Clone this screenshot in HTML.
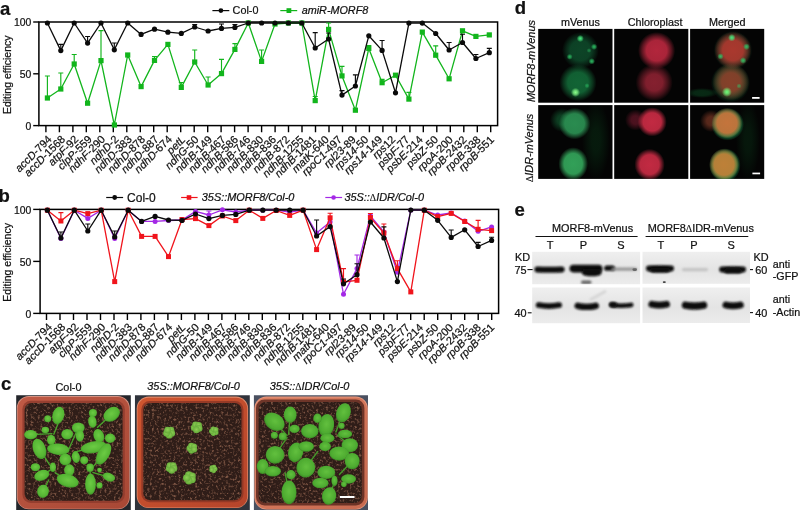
<!DOCTYPE html>
<html lang="en"><head><meta charset="utf-8"><title>Figure</title>
<style>text{stroke:#111;stroke-width:0.22px}.dl{font-family:"Liberation Serif",serif;font-size:9.8px;font-style:normal;stroke-width:0.1px}html,body{margin:0;padding:0;background:#fff}body{width:800px;height:510px;overflow:hidden}svg{display:block;will-change:transform}</style></head>
<body>
<svg width="800" height="510" viewBox="0 0 800 510" font-family="'Liberation Sans', sans-serif">
<rect width="800" height="510" fill="#fff"/>
<rect x="38.9" y="22.0" width="458.7" height="103.6" fill="none" stroke="#000" stroke-width="1.5"/>
<path d="M33.2 22.0H38.9" stroke="#000" stroke-width="1.4"/>
<text x="31.4" y="26.2" text-anchor="end" font-size="10.4" fill="#111">100</text>
<path d="M33.2 73.8H38.9" stroke="#000" stroke-width="1.4"/>
<text x="31.4" y="78.0" text-anchor="end" font-size="10.4" fill="#111">50</text>
<path d="M33.2 125.6H38.9" stroke="#000" stroke-width="1.4"/>
<text x="31.4" y="129.8" text-anchor="end" font-size="10.4" fill="#111">0</text>
<path d="M45.9 125.6v6.6M59.4 125.6v6.6M72.9 125.6v6.6M86.3 125.6v6.6M99.8 125.6v6.6M113.3 125.6v6.6M126.8 125.6v6.6M140.3 125.6v6.6M153.7 125.6v6.6M167.2 125.6v6.6M180.7 125.6v6.6M194.2 125.6v6.6M207.7 125.6v6.6M221.1 125.6v6.6M234.6 125.6v6.6M248.1 125.6v6.6M261.6 125.6v6.6M275.1 125.6v6.6M288.5 125.6v6.6M302.0 125.6v6.6M315.5 125.6v6.6M329.0 125.6v6.6M342.5 125.6v6.6M355.9 125.6v6.6M369.4 125.6v6.6M382.9 125.6v6.6M396.4 125.6v6.6M409.9 125.6v6.6M423.3 125.6v6.6M436.8 125.6v6.6M450.3 125.6v6.6M463.8 125.6v6.6M477.3 125.6v6.6M490.7 125.6v6.6" stroke="#000" stroke-width="1.4" fill="none"/>
<text transform="translate(52.4 139.9) rotate(-45)" text-anchor="end" font-size="10.9" fill="#111"><tspan font-style="italic">accD</tspan>-794</text>
<text transform="translate(65.8 139.9) rotate(-45)" text-anchor="end" font-size="10.9" fill="#111"><tspan font-style="italic">accD</tspan>-1568</text>
<text transform="translate(79.1 139.9) rotate(-45)" text-anchor="end" font-size="10.9" fill="#111"><tspan font-style="italic">atpF</tspan>-92</text>
<text transform="translate(92.5 140.0) rotate(-45)" text-anchor="end" font-size="10.9" fill="#111"><tspan font-style="italic">clpP</tspan>-559</text>
<text transform="translate(105.8 140.0) rotate(-45)" text-anchor="end" font-size="10.9" fill="#111"><tspan font-style="italic">ndhF</tspan>-290</text>
<text transform="translate(119.2 140.0) rotate(-45)" text-anchor="end" font-size="10.9" fill="#111"><tspan font-style="italic">ndhD</tspan>-2</text>
<text transform="translate(132.6 140.0) rotate(-45)" text-anchor="end" font-size="10.9" fill="#111"><tspan font-style="italic">ndhD</tspan>-383</text>
<text transform="translate(145.9 140.0) rotate(-45)" text-anchor="end" font-size="10.9" fill="#111"><tspan font-style="italic">ndhD</tspan>-878</text>
<text transform="translate(159.3 140.0) rotate(-45)" text-anchor="end" font-size="10.9" fill="#111"><tspan font-style="italic">ndhD</tspan>-887</text>
<text transform="translate(172.7 140.0) rotate(-45)" text-anchor="end" font-size="10.9" fill="#111"><tspan font-style="italic">ndhD</tspan>-674</text>
<text transform="translate(186.1 140.1) rotate(-45)" text-anchor="end" font-size="10.9" fill="#111"><tspan font-style="italic">petL</tspan></text>
<text transform="translate(199.4 140.1) rotate(-45)" text-anchor="end" font-size="10.9" fill="#111"><tspan font-style="italic">ndhG</tspan>-50</text>
<text transform="translate(212.8 140.1) rotate(-45)" text-anchor="end" font-size="10.9" fill="#111"><tspan font-style="italic">ndhB</tspan>-149</text>
<text transform="translate(226.2 140.1) rotate(-45)" text-anchor="end" font-size="10.9" fill="#111"><tspan font-style="italic">ndhB</tspan>-467</text>
<text transform="translate(238.7 140.1) rotate(-45)" text-anchor="end" font-size="10.9" fill="#111"><tspan font-style="italic">ndhB</tspan>-586</text>
<text transform="translate(251.1 140.1) rotate(-45)" text-anchor="end" font-size="10.9" fill="#111"><tspan font-style="italic">ndhB</tspan>-746</text>
<text transform="translate(264.1 140.1) rotate(-45)" text-anchor="end" font-size="10.9" fill="#111"><tspan font-style="italic">ndhB</tspan>-830</text>
<text transform="translate(276.9 140.2) rotate(-45)" text-anchor="end" font-size="10.9" fill="#111"><tspan font-style="italic">ndhB</tspan>-836</text>
<text transform="translate(290.4 140.2) rotate(-45)" text-anchor="end" font-size="10.9" fill="#111"><tspan font-style="italic">ndhB</tspan>-872</text>
<text transform="translate(304.4 140.2) rotate(-45)" text-anchor="end" font-size="10.9" fill="#111"><tspan font-style="italic">ndhB</tspan>-1255</text>
<text transform="translate(316.7 140.2) rotate(-45)" text-anchor="end" font-size="10.9" fill="#111"><tspan font-style="italic">ndhB</tspan>-1481</text>
<text transform="translate(329.6 140.2) rotate(-45)" text-anchor="end" font-size="10.9" fill="#111"><tspan font-style="italic">matK</tspan>-640</text>
<text transform="translate(342.6 140.2) rotate(-45)" text-anchor="end" font-size="10.9" fill="#111"><tspan font-style="italic">rpoC1</tspan>-497</text>
<text transform="translate(356.5 140.2) rotate(-45)" text-anchor="end" font-size="10.9" fill="#111"><tspan font-style="italic">rpl23</tspan>-89</text>
<text transform="translate(369.1 140.3) rotate(-45)" text-anchor="end" font-size="10.9" fill="#111"><tspan font-style="italic">rps14</tspan>-50</text>
<text transform="translate(383.1 140.3) rotate(-45)" text-anchor="end" font-size="10.9" fill="#111"><tspan font-style="italic">rps14</tspan>-149</text>
<text transform="translate(396.0 140.3) rotate(-45)" text-anchor="end" font-size="10.9" fill="#111"><tspan font-style="italic">rps</tspan>12</text>
<text transform="translate(410.0 140.3) rotate(-45)" text-anchor="end" font-size="10.9" fill="#111"><tspan font-style="italic">psbF</tspan>-77</text>
<text transform="translate(423.6 140.3) rotate(-45)" text-anchor="end" font-size="10.9" fill="#111"><tspan font-style="italic">psbE</tspan>-214</text>
<text transform="translate(438.7 140.3) rotate(-45)" text-anchor="end" font-size="10.9" fill="#111"><tspan font-style="italic">psbZ</tspan>-50</text>
<text transform="translate(453.5 140.4) rotate(-45)" text-anchor="end" font-size="10.9" fill="#111"><tspan font-style="italic">rpoA</tspan>-200</text>
<text transform="translate(467.4 140.4) rotate(-45)" text-anchor="end" font-size="10.9" fill="#111"><tspan font-style="italic">rpoB</tspan>-2432</text>
<text transform="translate(481.3 140.4) rotate(-45)" text-anchor="end" font-size="10.9" fill="#111"><tspan font-style="italic">rpoB</tspan>-338</text>
<text transform="translate(494.7 140.4) rotate(-45)" text-anchor="end" font-size="10.9" fill="#111"><tspan font-style="italic">rpoB</tspan>-551</text>
<text transform="translate(10.6 74.8) rotate(-90)" text-anchor="middle" font-size="10.5" fill="#111">Editing efficiency</text>
<polyline points="47.4,98.0 60.8,89.0 74.2,64.0 87.6,103.2 101.0,60.6 114.3,125.0 127.7,55.0 141.1,86.6 154.5,60.4 167.9,44.4 181.3,87.4 194.7,62.0 208.1,85.0 221.5,73.6 234.9,49.4 248.3,23.0 261.6,61.4 275.0,24.0 288.4,23.0 301.8,23.0 315.2,100.6 328.6,29.4 342.0,75.9 355.4,110.2 368.8,48.4 382.1,82.7 395.5,75.2 408.9,99.1 422.3,32.1 435.7,55.2 449.1,78.8 462.5,30.8 475.9,36.4 489.3,34.9" fill="none" stroke="#12b51c" stroke-width="1.30" stroke-linejoin="round"/>
<path d="M47.4 98.0V76.0M44.9 76.0h5.0" stroke="#12b51c" stroke-width="1.15" fill="none"/>
<path d="M60.8 89.0V73.0M58.3 73.0h5.0" stroke="#12b51c" stroke-width="1.15" fill="none"/>
<path d="M74.2 64.0V54.5M71.7 54.5h5.0" stroke="#12b51c" stroke-width="1.15" fill="none"/>
<path d="M101.0 60.6V30.6M98.5 30.6h5.0" stroke="#12b51c" stroke-width="1.15" fill="none"/>
<path d="M154.5 60.4V56.5M152.0 56.5h5.0" stroke="#12b51c" stroke-width="1.15" fill="none"/>
<path d="M181.3 87.4V82.5M178.8 82.5h5.0" stroke="#12b51c" stroke-width="1.15" fill="none"/>
<path d="M194.7 62.0V50.0M192.2 50.0h5.0" stroke="#12b51c" stroke-width="1.15" fill="none"/>
<path d="M208.1 85.0V77.0M205.6 77.0h5.0" stroke="#12b51c" stroke-width="1.15" fill="none"/>
<path d="M221.5 73.6V59.4M219.0 59.4h5.0" stroke="#12b51c" stroke-width="1.15" fill="none"/>
<path d="M234.9 49.4V43.6M232.4 43.6h5.0" stroke="#12b51c" stroke-width="1.15" fill="none"/>
<path d="M261.6 61.4V50.0M259.1 50.0h5.0" stroke="#12b51c" stroke-width="1.15" fill="none"/>
<path d="M315.2 100.6V96.5M312.7 96.5h5.0" stroke="#12b51c" stroke-width="1.15" fill="none"/>
<path d="M328.6 29.4V23.0M326.1 23.0h5.0" stroke="#12b51c" stroke-width="1.15" fill="none"/>
<path d="M342.0 75.9V66.4M339.5 66.4h5.0" stroke="#12b51c" stroke-width="1.15" fill="none"/>
<path d="M368.8 48.4V45.5M366.3 45.5h5.0" stroke="#12b51c" stroke-width="1.15" fill="none"/>
<path d="M382.1 82.7V79.3M379.6 79.3h5.0" stroke="#12b51c" stroke-width="1.15" fill="none"/>
<path d="M408.9 99.1V92.4M406.4 92.4h5.0" stroke="#12b51c" stroke-width="1.15" fill="none"/>
<path d="M435.7 55.2V45.9M433.2 45.9h5.0" stroke="#12b51c" stroke-width="1.15" fill="none"/>
<rect x="44.8" y="95.4" width="5.2" height="5.2" fill="#12b51c"/>
<rect x="58.2" y="86.4" width="5.2" height="5.2" fill="#12b51c"/>
<rect x="71.6" y="61.4" width="5.2" height="5.2" fill="#12b51c"/>
<rect x="85.0" y="100.6" width="5.2" height="5.2" fill="#12b51c"/>
<rect x="98.4" y="58.0" width="5.2" height="5.2" fill="#12b51c"/>
<rect x="111.8" y="122.4" width="5.2" height="5.2" fill="#12b51c"/>
<rect x="125.1" y="52.4" width="5.2" height="5.2" fill="#12b51c"/>
<rect x="138.5" y="84.0" width="5.2" height="5.2" fill="#12b51c"/>
<rect x="151.9" y="57.8" width="5.2" height="5.2" fill="#12b51c"/>
<rect x="165.3" y="41.8" width="5.2" height="5.2" fill="#12b51c"/>
<rect x="178.7" y="84.8" width="5.2" height="5.2" fill="#12b51c"/>
<rect x="192.1" y="59.4" width="5.2" height="5.2" fill="#12b51c"/>
<rect x="205.5" y="82.4" width="5.2" height="5.2" fill="#12b51c"/>
<rect x="218.9" y="71.0" width="5.2" height="5.2" fill="#12b51c"/>
<rect x="232.3" y="46.8" width="5.2" height="5.2" fill="#12b51c"/>
<rect x="245.7" y="20.4" width="5.2" height="5.2" fill="#12b51c"/>
<rect x="259.0" y="58.8" width="5.2" height="5.2" fill="#12b51c"/>
<rect x="272.4" y="21.4" width="5.2" height="5.2" fill="#12b51c"/>
<rect x="285.8" y="20.4" width="5.2" height="5.2" fill="#12b51c"/>
<rect x="299.2" y="20.4" width="5.2" height="5.2" fill="#12b51c"/>
<rect x="312.6" y="98.0" width="5.2" height="5.2" fill="#12b51c"/>
<rect x="326.0" y="26.8" width="5.2" height="5.2" fill="#12b51c"/>
<rect x="339.4" y="73.3" width="5.2" height="5.2" fill="#12b51c"/>
<rect x="352.8" y="107.6" width="5.2" height="5.2" fill="#12b51c"/>
<rect x="366.2" y="45.8" width="5.2" height="5.2" fill="#12b51c"/>
<rect x="379.5" y="80.1" width="5.2" height="5.2" fill="#12b51c"/>
<rect x="392.9" y="72.6" width="5.2" height="5.2" fill="#12b51c"/>
<rect x="406.3" y="96.5" width="5.2" height="5.2" fill="#12b51c"/>
<rect x="419.7" y="29.5" width="5.2" height="5.2" fill="#12b51c"/>
<rect x="433.1" y="52.6" width="5.2" height="5.2" fill="#12b51c"/>
<rect x="446.5" y="76.2" width="5.2" height="5.2" fill="#12b51c"/>
<rect x="459.9" y="28.2" width="5.2" height="5.2" fill="#12b51c"/>
<rect x="473.3" y="33.8" width="5.2" height="5.2" fill="#12b51c"/>
<rect x="486.7" y="32.3" width="5.2" height="5.2" fill="#12b51c"/>
<polyline points="47.4,23.0 60.8,50.6 74.2,23.0 87.6,43.1 101.0,23.0 114.3,49.8 127.7,23.0 141.1,34.4 154.5,29.2 167.9,32.2 181.3,33.4 194.7,27.0 208.1,31.0 221.5,28.4 234.9,27.4 248.3,23.0 261.6,23.0 275.0,23.0 288.4,23.0 301.8,23.0 315.2,48.0 328.6,39.0 342.0,95.1 355.4,86.0 368.8,35.8 382.1,50.4 395.5,92.8 408.9,23.1 422.3,23.1 435.7,33.5 449.1,50.0 462.5,42.5 475.9,58.5 489.3,52.7" fill="none" stroke="#0a0a0a" stroke-width="1.30" stroke-linejoin="round"/>
<path d="M60.8 50.6V44.3M58.3 44.3h5.0" stroke="#0a0a0a" stroke-width="1.15" fill="none"/>
<path d="M87.6 43.1V36.5M85.1 36.5h5.0" stroke="#0a0a0a" stroke-width="1.15" fill="none"/>
<path d="M114.3 49.8V43.0M111.8 43.0h5.0" stroke="#0a0a0a" stroke-width="1.15" fill="none"/>
<path d="M194.7 27.0V24.5M192.2 24.5h5.0" stroke="#0a0a0a" stroke-width="1.15" fill="none"/>
<path d="M221.5 28.4V24.0M219.0 24.0h5.0" stroke="#0a0a0a" stroke-width="1.15" fill="none"/>
<path d="M234.9 27.4V24.5M232.4 24.5h5.0" stroke="#0a0a0a" stroke-width="1.15" fill="none"/>
<path d="M315.2 48.0V32.6M312.7 32.6h5.0" stroke="#0a0a0a" stroke-width="1.15" fill="none"/>
<path d="M328.6 39.0V33.0M326.1 33.0h5.0" stroke="#0a0a0a" stroke-width="1.15" fill="none"/>
<path d="M342.0 95.1V90.6M339.5 90.6h5.0" stroke="#0a0a0a" stroke-width="1.15" fill="none"/>
<path d="M355.4 86.0V74.8M352.9 74.8h5.0" stroke="#0a0a0a" stroke-width="1.15" fill="none"/>
<path d="M382.1 50.4V40.5M379.6 40.5h5.0" stroke="#0a0a0a" stroke-width="1.15" fill="none"/>
<path d="M449.1 50.0V42.5M446.6 42.5h5.0" stroke="#0a0a0a" stroke-width="1.15" fill="none"/>
<path d="M462.5 42.5V34.2M460.0 34.2h5.0" stroke="#0a0a0a" stroke-width="1.15" fill="none"/>
<path d="M475.9 58.5V54.5M473.4 54.5h5.0" stroke="#0a0a0a" stroke-width="1.15" fill="none"/>
<path d="M489.3 52.7V48.4M486.8 48.4h5.0" stroke="#0a0a0a" stroke-width="1.15" fill="none"/>
<circle cx="47.4" cy="23.0" r="2.60" fill="#0a0a0a"/>
<circle cx="60.8" cy="50.6" r="2.60" fill="#0a0a0a"/>
<circle cx="74.2" cy="23.0" r="2.60" fill="#0a0a0a"/>
<circle cx="87.6" cy="43.1" r="2.60" fill="#0a0a0a"/>
<circle cx="101.0" cy="23.0" r="2.60" fill="#0a0a0a"/>
<circle cx="114.3" cy="49.8" r="2.60" fill="#0a0a0a"/>
<circle cx="127.7" cy="23.0" r="2.60" fill="#0a0a0a"/>
<circle cx="141.1" cy="34.4" r="2.60" fill="#0a0a0a"/>
<circle cx="154.5" cy="29.2" r="2.60" fill="#0a0a0a"/>
<circle cx="167.9" cy="32.2" r="2.60" fill="#0a0a0a"/>
<circle cx="181.3" cy="33.4" r="2.60" fill="#0a0a0a"/>
<circle cx="194.7" cy="27.0" r="2.60" fill="#0a0a0a"/>
<circle cx="208.1" cy="31.0" r="2.60" fill="#0a0a0a"/>
<circle cx="221.5" cy="28.4" r="2.60" fill="#0a0a0a"/>
<circle cx="234.9" cy="27.4" r="2.60" fill="#0a0a0a"/>
<circle cx="248.3" cy="23.0" r="2.60" fill="#0a0a0a"/>
<circle cx="261.6" cy="23.0" r="2.60" fill="#0a0a0a"/>
<circle cx="275.0" cy="23.0" r="2.60" fill="#0a0a0a"/>
<circle cx="288.4" cy="23.0" r="2.60" fill="#0a0a0a"/>
<circle cx="301.8" cy="23.0" r="2.60" fill="#0a0a0a"/>
<circle cx="315.2" cy="48.0" r="2.60" fill="#0a0a0a"/>
<circle cx="328.6" cy="39.0" r="2.60" fill="#0a0a0a"/>
<circle cx="342.0" cy="95.1" r="2.60" fill="#0a0a0a"/>
<circle cx="355.4" cy="86.0" r="2.60" fill="#0a0a0a"/>
<circle cx="368.8" cy="35.8" r="2.60" fill="#0a0a0a"/>
<circle cx="382.1" cy="50.4" r="2.60" fill="#0a0a0a"/>
<circle cx="395.5" cy="92.8" r="2.60" fill="#0a0a0a"/>
<circle cx="408.9" cy="23.1" r="2.60" fill="#0a0a0a"/>
<circle cx="422.3" cy="23.1" r="2.60" fill="#0a0a0a"/>
<circle cx="435.7" cy="33.5" r="2.60" fill="#0a0a0a"/>
<circle cx="449.1" cy="50.0" r="2.60" fill="#0a0a0a"/>
<circle cx="462.5" cy="42.5" r="2.60" fill="#0a0a0a"/>
<circle cx="475.9" cy="58.5" r="2.60" fill="#0a0a0a"/>
<circle cx="489.3" cy="52.7" r="2.60" fill="#0a0a0a"/>
<text x="0" y="15.4" font-size="18.5" font-weight="bold" fill="#111">a</text>
<path d="M212.4 10.6H229.3" stroke="#0a0a0a" stroke-width="1.2"/><circle cx="220.9" cy="10.6" r="2.4" fill="#0a0a0a"/>
<text x="232.6" y="14" font-size="10.8" fill="#111">Col-0</text>
<path d="M280.3 10.6H297.2" stroke="#12b51c" stroke-width="1.2"/><rect x="286.5" y="8.2" width="4.8" height="4.8" fill="#12b51c"/>
<text x="301.7" y="14" font-size="10.8" font-style="italic" fill="#111">amiR-MORF8</text>
<rect x="40.1" y="209.4" width="458.5" height="104.0" fill="none" stroke="#000" stroke-width="1.5"/>
<path d="M33.2 209.4H40.1" stroke="#000" stroke-width="1.4"/>
<text x="31.4" y="213.6" text-anchor="end" font-size="10.4" fill="#111">100</text>
<path d="M33.2 261.4H40.1" stroke="#000" stroke-width="1.4"/>
<text x="31.4" y="265.6" text-anchor="end" font-size="10.4" fill="#111">50</text>
<path d="M33.2 313.4H40.1" stroke="#000" stroke-width="1.4"/>
<text x="31.4" y="317.6" text-anchor="end" font-size="10.4" fill="#111">0</text>
<path d="M46.5 313.4v6.6M60.0 313.4v6.6M73.5 313.4v6.6M87.0 313.4v6.6M100.5 313.4v6.6M114.0 313.4v6.6M127.4 313.4v6.6M140.9 313.4v6.6M154.4 313.4v6.6M167.9 313.4v6.6M181.4 313.4v6.6M194.9 313.4v6.6M208.4 313.4v6.6M221.9 313.4v6.6M235.4 313.4v6.6M248.8 313.4v6.6M262.3 313.4v6.6M275.8 313.4v6.6M289.3 313.4v6.6M302.8 313.4v6.6M316.3 313.4v6.6M329.8 313.4v6.6M343.3 313.4v6.6M356.8 313.4v6.6M370.3 313.4v6.6M383.8 313.4v6.6M397.2 313.4v6.6M410.7 313.4v6.6M424.2 313.4v6.6M437.7 313.4v6.6M451.2 313.4v6.6M464.7 313.4v6.6M478.2 313.4v6.6M491.7 313.4v6.6" stroke="#000" stroke-width="1.4" fill="none"/>
<text transform="translate(52.7 327.7) rotate(-45)" text-anchor="end" font-size="10.9" fill="#111"><tspan font-style="italic">accD</tspan>-794</text>
<text transform="translate(66.1 327.7) rotate(-45)" text-anchor="end" font-size="10.9" fill="#111"><tspan font-style="italic">accD</tspan>-1568</text>
<text transform="translate(79.4 327.7) rotate(-45)" text-anchor="end" font-size="10.9" fill="#111"><tspan font-style="italic">atpF</tspan>-92</text>
<text transform="translate(92.8 327.8) rotate(-45)" text-anchor="end" font-size="10.9" fill="#111"><tspan font-style="italic">clpP</tspan>-559</text>
<text transform="translate(106.1 327.8) rotate(-45)" text-anchor="end" font-size="10.9" fill="#111"><tspan font-style="italic">ndhF</tspan>-290</text>
<text transform="translate(119.5 327.8) rotate(-45)" text-anchor="end" font-size="10.9" fill="#111"><tspan font-style="italic">ndhD</tspan>-2</text>
<text transform="translate(132.9 327.8) rotate(-45)" text-anchor="end" font-size="10.9" fill="#111"><tspan font-style="italic">ndhD</tspan>-383</text>
<text transform="translate(146.2 327.8) rotate(-45)" text-anchor="end" font-size="10.9" fill="#111"><tspan font-style="italic">ndhD</tspan>-878</text>
<text transform="translate(159.6 327.8) rotate(-45)" text-anchor="end" font-size="10.9" fill="#111"><tspan font-style="italic">ndhD</tspan>-887</text>
<text transform="translate(173.0 327.8) rotate(-45)" text-anchor="end" font-size="10.9" fill="#111"><tspan font-style="italic">ndhD</tspan>-674</text>
<text transform="translate(186.4 327.9) rotate(-45)" text-anchor="end" font-size="10.9" fill="#111"><tspan font-style="italic">petL</tspan></text>
<text transform="translate(199.7 327.9) rotate(-45)" text-anchor="end" font-size="10.9" fill="#111"><tspan font-style="italic">ndhG</tspan>-50</text>
<text transform="translate(213.1 327.9) rotate(-45)" text-anchor="end" font-size="10.9" fill="#111"><tspan font-style="italic">ndhB</tspan>-149</text>
<text transform="translate(226.5 327.9) rotate(-45)" text-anchor="end" font-size="10.9" fill="#111"><tspan font-style="italic">ndhB</tspan>-467</text>
<text transform="translate(239.0 327.9) rotate(-45)" text-anchor="end" font-size="10.9" fill="#111"><tspan font-style="italic">ndhB</tspan>-586</text>
<text transform="translate(251.4 327.9) rotate(-45)" text-anchor="end" font-size="10.9" fill="#111"><tspan font-style="italic">ndhB</tspan>-746</text>
<text transform="translate(264.4 327.9) rotate(-45)" text-anchor="end" font-size="10.9" fill="#111"><tspan font-style="italic">ndhB</tspan>-830</text>
<text transform="translate(277.2 328.0) rotate(-45)" text-anchor="end" font-size="10.9" fill="#111"><tspan font-style="italic">ndhB</tspan>-836</text>
<text transform="translate(290.7 328.0) rotate(-45)" text-anchor="end" font-size="10.9" fill="#111"><tspan font-style="italic">ndhB</tspan>-872</text>
<text transform="translate(304.7 328.0) rotate(-45)" text-anchor="end" font-size="10.9" fill="#111"><tspan font-style="italic">ndhB</tspan>-1255</text>
<text transform="translate(317.0 328.0) rotate(-45)" text-anchor="end" font-size="10.9" fill="#111"><tspan font-style="italic">ndhB</tspan>-1481</text>
<text transform="translate(329.9 328.0) rotate(-45)" text-anchor="end" font-size="10.9" fill="#111"><tspan font-style="italic">matK</tspan>-640</text>
<text transform="translate(342.9 328.0) rotate(-45)" text-anchor="end" font-size="10.9" fill="#111"><tspan font-style="italic">rpoC1</tspan>-497</text>
<text transform="translate(356.8 328.1) rotate(-45)" text-anchor="end" font-size="10.9" fill="#111"><tspan font-style="italic">rpl23</tspan>-89</text>
<text transform="translate(369.4 328.1) rotate(-45)" text-anchor="end" font-size="10.9" fill="#111"><tspan font-style="italic">rps14</tspan>-50</text>
<text transform="translate(383.4 328.1) rotate(-45)" text-anchor="end" font-size="10.9" fill="#111"><tspan font-style="italic">rps14</tspan>-149</text>
<text transform="translate(396.3 328.1) rotate(-45)" text-anchor="end" font-size="10.9" fill="#111"><tspan font-style="italic">rps</tspan>12</text>
<text transform="translate(410.3 328.1) rotate(-45)" text-anchor="end" font-size="10.9" fill="#111"><tspan font-style="italic">psbF</tspan>-77</text>
<text transform="translate(423.9 328.1) rotate(-45)" text-anchor="end" font-size="10.9" fill="#111"><tspan font-style="italic">psbE</tspan>-214</text>
<text transform="translate(439.0 328.1) rotate(-45)" text-anchor="end" font-size="10.9" fill="#111"><tspan font-style="italic">psbZ</tspan>-50</text>
<text transform="translate(453.8 328.2) rotate(-45)" text-anchor="end" font-size="10.9" fill="#111"><tspan font-style="italic">rpoA</tspan>-200</text>
<text transform="translate(467.7 328.2) rotate(-45)" text-anchor="end" font-size="10.9" fill="#111"><tspan font-style="italic">rpoB</tspan>-2432</text>
<text transform="translate(481.6 328.2) rotate(-45)" text-anchor="end" font-size="10.9" fill="#111"><tspan font-style="italic">rpoB</tspan>-338</text>
<text transform="translate(495.0 328.2) rotate(-45)" text-anchor="end" font-size="10.9" fill="#111"><tspan font-style="italic">rpoB</tspan>-551</text>
<text transform="translate(10.6 262.4) rotate(-90)" text-anchor="middle" font-size="10.5" fill="#111">Editing efficiency</text>
<polyline points="47.4,210.2 60.9,238.5 74.3,210.2 87.8,218.4 101.2,210.2 114.7,238.5 128.2,210.2 141.6,221.4 155.1,221.4 168.5,220.5 182.0,220.0 195.5,211.4 208.9,215.0 222.4,209.8 235.8,212.0 249.3,210.2 262.8,210.2 276.2,210.2 289.7,212.0 303.1,210.2 316.6,233.0 330.1,222.0 343.5,294.3 357.0,268.6 370.4,215.8 383.9,232.0 397.4,272.2 410.8,210.2 424.3,210.2 437.7,215.0 451.2,213.0 464.7,221.0 478.1,231.3 491.6,226.9" fill="none" stroke="#a428e6" stroke-width="1.30" stroke-linejoin="round"/>
<path d="M208.9 215.0V211.0M206.4 211.0h5.0" stroke="#a428e6" stroke-width="1.15" fill="none"/>
<path d="M357.0 268.6V255.0M354.5 255.0h5.0" stroke="#a428e6" stroke-width="1.15" fill="none"/>
<circle cx="47.4" cy="210.2" r="2.50" fill="#a428e6"/>
<circle cx="60.9" cy="238.5" r="2.50" fill="#a428e6"/>
<circle cx="74.3" cy="210.2" r="2.50" fill="#a428e6"/>
<circle cx="87.8" cy="218.4" r="2.50" fill="#a428e6"/>
<circle cx="101.2" cy="210.2" r="2.50" fill="#a428e6"/>
<circle cx="114.7" cy="238.5" r="2.50" fill="#a428e6"/>
<circle cx="128.2" cy="210.2" r="2.50" fill="#a428e6"/>
<circle cx="141.6" cy="221.4" r="2.50" fill="#a428e6"/>
<circle cx="155.1" cy="221.4" r="2.50" fill="#a428e6"/>
<circle cx="168.5" cy="220.5" r="2.50" fill="#a428e6"/>
<circle cx="182.0" cy="220.0" r="2.50" fill="#a428e6"/>
<circle cx="195.5" cy="211.4" r="2.50" fill="#a428e6"/>
<circle cx="208.9" cy="215.0" r="2.50" fill="#a428e6"/>
<circle cx="222.4" cy="209.8" r="2.50" fill="#a428e6"/>
<circle cx="235.8" cy="212.0" r="2.50" fill="#a428e6"/>
<circle cx="249.3" cy="210.2" r="2.50" fill="#a428e6"/>
<circle cx="262.8" cy="210.2" r="2.50" fill="#a428e6"/>
<circle cx="276.2" cy="210.2" r="2.50" fill="#a428e6"/>
<circle cx="289.7" cy="212.0" r="2.50" fill="#a428e6"/>
<circle cx="303.1" cy="210.2" r="2.50" fill="#a428e6"/>
<circle cx="316.6" cy="233.0" r="2.50" fill="#a428e6"/>
<circle cx="330.1" cy="222.0" r="2.50" fill="#a428e6"/>
<circle cx="343.5" cy="294.3" r="2.50" fill="#a428e6"/>
<circle cx="357.0" cy="268.6" r="2.50" fill="#a428e6"/>
<circle cx="370.4" cy="215.8" r="2.50" fill="#a428e6"/>
<circle cx="383.9" cy="232.0" r="2.50" fill="#a428e6"/>
<circle cx="397.4" cy="272.2" r="2.50" fill="#a428e6"/>
<circle cx="410.8" cy="210.2" r="2.50" fill="#a428e6"/>
<circle cx="424.3" cy="210.2" r="2.50" fill="#a428e6"/>
<circle cx="437.7" cy="215.0" r="2.50" fill="#a428e6"/>
<circle cx="451.2" cy="213.0" r="2.50" fill="#a428e6"/>
<circle cx="464.7" cy="221.0" r="2.50" fill="#a428e6"/>
<circle cx="478.1" cy="231.3" r="2.50" fill="#a428e6"/>
<circle cx="491.6" cy="226.9" r="2.50" fill="#a428e6"/>
<polyline points="47.4,210.2 60.9,221.0 74.3,210.2 87.8,213.6 101.2,210.2 114.7,281.6 128.2,210.2 141.6,236.4 155.1,236.4 168.5,256.6 182.0,219.5 195.5,218.6 208.9,225.6 222.4,216.0 235.8,220.6 249.3,210.2 262.8,218.4 276.2,210.5 289.7,215.4 303.1,210.2 316.6,249.6 330.1,217.8 343.5,282.0 357.0,280.3 370.4,217.6 383.9,233.0 397.4,268.6 410.8,291.9 424.3,210.2 437.7,216.6 451.2,213.4 464.7,221.5 478.1,229.3 491.6,230.6" fill="none" stroke="#f0141c" stroke-width="1.30" stroke-linejoin="round"/>
<path d="M60.9 221.0V212.6M58.4 212.6h5.0" stroke="#f0141c" stroke-width="1.15" fill="none"/>
<path d="M330.1 217.8V213.2M327.6 213.2h5.0" stroke="#f0141c" stroke-width="1.15" fill="none"/>
<path d="M343.5 282.0V268.6M341.0 268.6h5.0" stroke="#f0141c" stroke-width="1.15" fill="none"/>
<path d="M370.4 217.6V213.5M367.9 213.5h5.0" stroke="#f0141c" stroke-width="1.15" fill="none"/>
<path d="M383.9 233.0V224.0M381.4 224.0h5.0" stroke="#f0141c" stroke-width="1.15" fill="none"/>
<path d="M397.4 268.6V260.7M394.9 260.7h5.0" stroke="#f0141c" stroke-width="1.15" fill="none"/>
<path d="M478.1 229.3V220.3M475.6 220.3h5.0" stroke="#f0141c" stroke-width="1.15" fill="none"/>
<rect x="44.9" y="207.7" width="5.0" height="5.0" fill="#f0141c"/>
<rect x="58.4" y="218.5" width="5.0" height="5.0" fill="#f0141c"/>
<rect x="71.8" y="207.7" width="5.0" height="5.0" fill="#f0141c"/>
<rect x="85.3" y="211.1" width="5.0" height="5.0" fill="#f0141c"/>
<rect x="98.7" y="207.7" width="5.0" height="5.0" fill="#f0141c"/>
<rect x="112.2" y="279.1" width="5.0" height="5.0" fill="#f0141c"/>
<rect x="125.7" y="207.7" width="5.0" height="5.0" fill="#f0141c"/>
<rect x="139.1" y="233.9" width="5.0" height="5.0" fill="#f0141c"/>
<rect x="152.6" y="233.9" width="5.0" height="5.0" fill="#f0141c"/>
<rect x="166.0" y="254.1" width="5.0" height="5.0" fill="#f0141c"/>
<rect x="179.5" y="217.0" width="5.0" height="5.0" fill="#f0141c"/>
<rect x="193.0" y="216.1" width="5.0" height="5.0" fill="#f0141c"/>
<rect x="206.4" y="223.1" width="5.0" height="5.0" fill="#f0141c"/>
<rect x="219.9" y="213.5" width="5.0" height="5.0" fill="#f0141c"/>
<rect x="233.3" y="218.1" width="5.0" height="5.0" fill="#f0141c"/>
<rect x="246.8" y="207.7" width="5.0" height="5.0" fill="#f0141c"/>
<rect x="260.3" y="215.9" width="5.0" height="5.0" fill="#f0141c"/>
<rect x="273.7" y="208.0" width="5.0" height="5.0" fill="#f0141c"/>
<rect x="287.2" y="212.9" width="5.0" height="5.0" fill="#f0141c"/>
<rect x="300.6" y="207.7" width="5.0" height="5.0" fill="#f0141c"/>
<rect x="314.1" y="247.1" width="5.0" height="5.0" fill="#f0141c"/>
<rect x="327.6" y="215.3" width="5.0" height="5.0" fill="#f0141c"/>
<rect x="341.0" y="279.5" width="5.0" height="5.0" fill="#f0141c"/>
<rect x="354.5" y="277.8" width="5.0" height="5.0" fill="#f0141c"/>
<rect x="367.9" y="215.1" width="5.0" height="5.0" fill="#f0141c"/>
<rect x="381.4" y="230.5" width="5.0" height="5.0" fill="#f0141c"/>
<rect x="394.9" y="266.1" width="5.0" height="5.0" fill="#f0141c"/>
<rect x="408.3" y="289.4" width="5.0" height="5.0" fill="#f0141c"/>
<rect x="421.8" y="207.7" width="5.0" height="5.0" fill="#f0141c"/>
<rect x="435.2" y="214.1" width="5.0" height="5.0" fill="#f0141c"/>
<rect x="448.7" y="210.9" width="5.0" height="5.0" fill="#f0141c"/>
<rect x="462.2" y="219.0" width="5.0" height="5.0" fill="#f0141c"/>
<rect x="475.6" y="226.8" width="5.0" height="5.0" fill="#f0141c"/>
<rect x="489.1" y="228.1" width="5.0" height="5.0" fill="#f0141c"/>
<polyline points="47.4,210.2 60.9,238.0 74.3,210.2 87.8,231.0 101.2,210.2 114.7,237.0 128.2,210.2 141.6,221.4 155.1,216.4 168.5,220.0 182.0,220.4 195.5,214.0 208.9,218.6 222.4,215.4 235.8,214.4 249.3,210.2 262.8,210.2 276.2,210.2 289.7,210.2 303.1,210.2 316.6,236.0 330.1,226.6 343.5,283.8 357.0,274.7 370.4,222.0 383.9,238.0 397.4,281.6 410.8,210.0 424.3,210.2 437.7,220.3 451.2,237.4 464.7,229.8 478.1,246.5 491.6,240.4" fill="none" stroke="#0a0a0a" stroke-width="1.30" stroke-linejoin="round"/>
<path d="M60.9 238.0V232.0M58.4 232.0h5.0" stroke="#0a0a0a" stroke-width="1.15" fill="none"/>
<path d="M87.8 231.0V224.0M85.3 224.0h5.0" stroke="#0a0a0a" stroke-width="1.15" fill="none"/>
<path d="M114.7 237.0V231.0M112.2 231.0h5.0" stroke="#0a0a0a" stroke-width="1.15" fill="none"/>
<path d="M316.6 236.0V220.0M314.1 220.0h5.0" stroke="#0a0a0a" stroke-width="1.15" fill="none"/>
<path d="M343.5 283.8V279.0M341.0 279.0h5.0" stroke="#0a0a0a" stroke-width="1.15" fill="none"/>
<path d="M357.0 274.7V263.7M354.5 263.7h5.0" stroke="#0a0a0a" stroke-width="1.15" fill="none"/>
<path d="M383.9 238.0V226.9M381.4 226.9h5.0" stroke="#0a0a0a" stroke-width="1.15" fill="none"/>
<path d="M451.2 237.4V230.0M448.7 230.0h5.0" stroke="#0a0a0a" stroke-width="1.15" fill="none"/>
<path d="M478.1 246.5V242.3M475.6 242.3h5.0" stroke="#0a0a0a" stroke-width="1.15" fill="none"/>
<path d="M491.6 240.4V237.2M489.1 237.2h5.0" stroke="#0a0a0a" stroke-width="1.15" fill="none"/>
<circle cx="47.4" cy="210.2" r="2.60" fill="#0a0a0a"/>
<circle cx="60.9" cy="238.0" r="2.60" fill="#0a0a0a"/>
<circle cx="74.3" cy="210.2" r="2.60" fill="#0a0a0a"/>
<circle cx="87.8" cy="231.0" r="2.60" fill="#0a0a0a"/>
<circle cx="101.2" cy="210.2" r="2.60" fill="#0a0a0a"/>
<circle cx="114.7" cy="237.0" r="2.60" fill="#0a0a0a"/>
<circle cx="128.2" cy="210.2" r="2.60" fill="#0a0a0a"/>
<circle cx="141.6" cy="221.4" r="2.60" fill="#0a0a0a"/>
<circle cx="155.1" cy="216.4" r="2.60" fill="#0a0a0a"/>
<circle cx="168.5" cy="220.0" r="2.60" fill="#0a0a0a"/>
<circle cx="182.0" cy="220.4" r="2.60" fill="#0a0a0a"/>
<circle cx="195.5" cy="214.0" r="2.60" fill="#0a0a0a"/>
<circle cx="208.9" cy="218.6" r="2.60" fill="#0a0a0a"/>
<circle cx="222.4" cy="215.4" r="2.60" fill="#0a0a0a"/>
<circle cx="235.8" cy="214.4" r="2.60" fill="#0a0a0a"/>
<circle cx="249.3" cy="210.2" r="2.60" fill="#0a0a0a"/>
<circle cx="262.8" cy="210.2" r="2.60" fill="#0a0a0a"/>
<circle cx="276.2" cy="210.2" r="2.60" fill="#0a0a0a"/>
<circle cx="289.7" cy="210.2" r="2.60" fill="#0a0a0a"/>
<circle cx="303.1" cy="210.2" r="2.60" fill="#0a0a0a"/>
<circle cx="316.6" cy="236.0" r="2.60" fill="#0a0a0a"/>
<circle cx="330.1" cy="226.6" r="2.60" fill="#0a0a0a"/>
<circle cx="343.5" cy="283.8" r="2.60" fill="#0a0a0a"/>
<circle cx="357.0" cy="274.7" r="2.60" fill="#0a0a0a"/>
<circle cx="370.4" cy="222.0" r="2.60" fill="#0a0a0a"/>
<circle cx="383.9" cy="238.0" r="2.60" fill="#0a0a0a"/>
<circle cx="397.4" cy="281.6" r="2.60" fill="#0a0a0a"/>
<circle cx="410.8" cy="210.0" r="2.60" fill="#0a0a0a"/>
<circle cx="424.3" cy="210.2" r="2.60" fill="#0a0a0a"/>
<circle cx="437.7" cy="220.3" r="2.60" fill="#0a0a0a"/>
<circle cx="451.2" cy="237.4" r="2.60" fill="#0a0a0a"/>
<circle cx="464.7" cy="229.8" r="2.60" fill="#0a0a0a"/>
<circle cx="478.1" cy="246.5" r="2.60" fill="#0a0a0a"/>
<circle cx="491.6" cy="240.4" r="2.60" fill="#0a0a0a"/>
<text x="-1.4" y="201.5" font-size="18.5" font-weight="bold" fill="#111">b</text>
<path d="M106.2 197.5H123.1" stroke="#0a0a0a" stroke-width="1.2"/><circle cx="114.7" cy="197.5" r="2.4" fill="#0a0a0a"/>
<text x="127.1" y="201.5" font-size="12" fill="#111">Col-0</text>
<path d="M181.1 197.5H197.6" stroke="#f0141c" stroke-width="1.2"/><rect x="186.7" y="195.2" width="4.6" height="4.6" fill="#f0141c"/>
<text x="201.8" y="201.3" font-size="10.9" font-style="italic" fill="#111">35S::MORF8/Col-0</text>
<path d="M325.3 197.5H342.1" stroke="#a428e6" stroke-width="1.2"/><circle cx="333.6" cy="197.5" r="2.3" fill="#a428e6"/>
<text x="344.4" y="201.3" font-size="10.9" font-style="italic" fill="#111">35S::<tspan class="dl">Δ</tspan>IDR/Col-0</text>
<text x="1" y="390.3" font-size="18.5" font-weight="bold" fill="#111">c</text>
<text x="68.5" y="390.6" font-size="10.9" text-anchor="middle" fill="#111">Col-0</text>
<text x="193.6" y="390.2" font-size="10.9" text-anchor="middle" font-style="italic" fill="#111">35S::MORF8/Col-0</text>
<text x="309.6" y="390.2" font-size="10.9" text-anchor="middle" font-style="italic" fill="#111">35S::<tspan class="dl">Δ</tspan>IDR/Col-0</text>
<defs>
<filter id="soil" x="0" y="0" width="100%" height="100%" color-interpolation-filters="sRGB"><feTurbulence type="fractalNoise" baseFrequency="0.42" numOctaves="2" seed="3" result="n"/><feColorMatrix in="n" type="matrix" values="0 0 0 0 0.50  0 0 0 0 0.34  0 0 0 0 0.27  3.4 0 0 0 -1.72" result="sp"/><feComposite in="sp" in2="SourceGraphic" operator="in" result="spc"/><feMerge><feMergeNode in="SourceGraphic"/><feMergeNode in="spc"/></feMerge></filter>
<filter id="b1"><feGaussianBlur stdDeviation="0.6"/></filter><filter id="b08" filterUnits="userSpaceOnUse" x="500" y="240" width="300" height="100"><feGaussianBlur stdDeviation="0.85"/></filter><filter id="b06" filterUnits="userSpaceOnUse" x="500" y="240" width="300" height="100"><feGaussianBlur stdDeviation="0.6"/></filter>
<filter id="b2"><feGaussianBlur stdDeviation="1.6"/></filter>
<filter id="b3"><feGaussianBlur stdDeviation="2.6"/></filter>
<filter id="b05"><feGaussianBlur stdDeviation="0.35"/></filter>
<radialGradient id="leaf" cx="50%" cy="45%" r="60%"><stop offset="0" stop-color="#6ccb44"/><stop offset="0.7" stop-color="#55b533"/><stop offset="1" stop-color="#3b8a26"/></radialGradient>
<radialGradient id="leaf3" cx="50%" cy="45%" r="60%"><stop offset="0" stop-color="#62c03e"/><stop offset="0.7" stop-color="#4daa30"/><stop offset="1" stop-color="#357f22"/></radialGradient>
<radialGradient id="leaf2" cx="50%" cy="45%" r="60%"><stop offset="0" stop-color="#8fcf55"/><stop offset="1" stop-color="#5fa636"/></radialGradient>
<linearGradient id="pot" x1="0" y1="0" x2="1" y2="1"><stop offset="0" stop-color="#d0562f"/><stop offset="1" stop-color="#b5442b"/></linearGradient>
<clipPath id="cp1"><rect x="16.2" y="395.2" width="114.6" height="114.8"/></clipPath>
<clipPath id="cp2"><rect x="134.9" y="395.2" width="114.9" height="114.8"/></clipPath>
<clipPath id="cp3"><rect x="253.8" y="395.2" width="114.2" height="114.8"/></clipPath>
</defs>
<linearGradient id="potg1" x1="0" y1="0" x2="1" y2="1"><stop offset="0" stop-color="#c05a45"/><stop offset="1" stop-color="#a84835"/></linearGradient>
<g clip-path="url(#cp1)">
<rect x="16.0" y="395" width="115.0" height="116" fill="#23252a"/>
<rect x="16.8" y="396.0" width="113.0" height="113.2" rx="12" fill="#d49080"/>
<rect x="17.6" y="397.1" width="111.4" height="111.6" rx="11.2" fill="url(#potg1)"/>
<rect x="22.4" y="400.8" width="102.4" height="102.1" rx="8.5" fill="#8c3a2c" opacity="0.8"/>
<rect x="24.6" y="403.0" width="98.0" height="97.7" rx="7" fill="#2f1d18" filter="url(#soil)"/>
<g filter="url(#b05)">
<path d="M58.3 423.0L53.6 434.7" stroke="#4aa52c" stroke-width="1.3"/>
<path d="M30.7 434.7L52.4 433.6" stroke="#4aa52c" stroke-width="1.3"/>
<path d="M39.4 448.9L50.0 465.4" stroke="#4aa52c" stroke-width="1.3"/>
<path d="M78.3 427.7L68.9 448.9" stroke="#4aa52c" stroke-width="1.3"/>
<path d="M111.7 414.3L97.1 427.7" stroke="#4aa52c" stroke-width="1.3"/>
<path d="M93.6 447.2L73.6 452.4" stroke="#4aa52c" stroke-width="1.3"/>
<path d="M103.5 454.1L92.4 467.7" stroke="#4aa52c" stroke-width="1.3"/>
<path d="M41.8 475.3L52.4 468.9" stroke="#4aa52c" stroke-width="1.3"/>
<path d="M43.0 491.3L48.9 479.5" stroke="#4aa52c" stroke-width="1.3"/>
<path d="M67.7 480.7L54.7 472.4" stroke="#4aa52c" stroke-width="1.3"/>
<path d="M90.5 484.2L90.1 470.1" stroke="#4aa52c" stroke-width="1.3"/>
<path d="M108.9 477.1L92.4 472.4" stroke="#4aa52c" stroke-width="1.3"/>
<ellipse cx="58.3" cy="415.4" rx="5.9" ry="8.9" transform="rotate(15 58.3 415.4)" fill="url(#leaf)"/>
<ellipse cx="47.7" cy="418.7" rx="3.5" ry="3.5" transform="rotate(0 47.7 418.7)" fill="url(#leaf)"/>
<ellipse cx="30.7" cy="434.7" rx="6.6" ry="4.7" transform="rotate(0 30.7 434.7)" fill="url(#leaf)"/>
<ellipse cx="45.3" cy="430.0" rx="3.8" ry="3.3" transform="rotate(0 45.3 430.0)" fill="url(#leaf)"/>
<ellipse cx="39.4" cy="448.9" rx="6.4" ry="10.6" transform="rotate(-20 39.4 448.9)" fill="url(#leaf)"/>
<ellipse cx="51.2" cy="439.9" rx="4.2" ry="5.2" transform="rotate(0 51.2 439.9)" fill="url(#leaf)"/>
<ellipse cx="58.3" cy="449.3" rx="11.3" ry="5.7" transform="rotate(5 58.3 449.3)" fill="url(#leaf)"/>
<ellipse cx="67.2" cy="434.3" rx="5.9" ry="5.2" transform="rotate(0 67.2 434.3)" fill="url(#leaf)"/>
<ellipse cx="78.3" cy="427.7" rx="6.4" ry="5.2" transform="rotate(0 78.3 427.7)" fill="url(#leaf)"/>
<ellipse cx="79.9" cy="435.9" rx="4.2" ry="5.9" transform="rotate(0 79.9 435.9)" fill="url(#leaf)"/>
<ellipse cx="92.9" cy="413.1" rx="4.0" ry="4.0" transform="rotate(0 92.9 413.1)" fill="url(#leaf)"/>
<ellipse cx="92.4" cy="421.8" rx="4.2" ry="6.1" transform="rotate(-10 92.4 421.8)" fill="url(#leaf)"/>
<ellipse cx="111.7" cy="414.3" rx="8.9" ry="6.6" transform="rotate(-35 111.7 414.3)" fill="url(#leaf)"/>
<ellipse cx="98.8" cy="435.9" rx="5.2" ry="7.1" transform="rotate(-20 98.8 435.9)" fill="url(#leaf)"/>
<ellipse cx="110.1" cy="438.3" rx="5.2" ry="4.7" transform="rotate(0 110.1 438.3)" fill="url(#leaf)"/>
<ellipse cx="93.6" cy="447.2" rx="13.0" ry="5.9" transform="rotate(-10 93.6 447.2)" fill="url(#leaf)"/>
<ellipse cx="103.5" cy="454.1" rx="5.9" ry="11.8" transform="rotate(30 103.5 454.1)" fill="url(#leaf)"/>
<ellipse cx="65.3" cy="459.5" rx="5.9" ry="5.9" transform="rotate(0 65.3 459.5)" fill="url(#leaf)"/>
<ellipse cx="75.9" cy="457.1" rx="4.0" ry="5.9" transform="rotate(-10 75.9 457.1)" fill="url(#leaf)"/>
<ellipse cx="84.2" cy="460.2" rx="4.0" ry="4.0" transform="rotate(0 84.2 460.2)" fill="url(#leaf)"/>
<ellipse cx="35.4" cy="467.2" rx="4.7" ry="4.0" transform="rotate(0 35.4 467.2)" fill="url(#leaf)"/>
<ellipse cx="41.8" cy="475.3" rx="7.8" ry="5.2" transform="rotate(-20 41.8 475.3)" fill="url(#leaf)"/>
<ellipse cx="52.9" cy="467.2" rx="3.1" ry="4.7" transform="rotate(0 52.9 467.2)" fill="url(#leaf)"/>
<ellipse cx="43.0" cy="491.3" rx="5.9" ry="6.6" transform="rotate(10 43.0 491.3)" fill="url(#leaf)"/>
<ellipse cx="69.3" cy="470.1" rx="5.2" ry="5.9" transform="rotate(0 69.3 470.1)" fill="url(#leaf)"/>
<ellipse cx="67.7" cy="480.7" rx="11.3" ry="6.4" transform="rotate(15 67.7 480.7)" fill="url(#leaf)"/>
<ellipse cx="90.1" cy="467.7" rx="3.8" ry="4.2" transform="rotate(0 90.1 467.7)" fill="url(#leaf)"/>
<ellipse cx="90.5" cy="484.2" rx="5.4" ry="10.6" transform="rotate(0 90.5 484.2)" fill="url(#leaf)"/>
<ellipse cx="99.5" cy="485.4" rx="3.1" ry="3.1" transform="rotate(0 99.5 485.4)" fill="url(#leaf)"/>
<ellipse cx="108.9" cy="477.1" rx="6.4" ry="4.2" transform="rotate(20 108.9 477.1)" fill="url(#leaf)"/>
<ellipse cx="99.5" cy="470.1" rx="2.4" ry="2.4" transform="rotate(0 99.5 470.1)" fill="url(#leaf)"/>
</g></g>
<linearGradient id="potg2" x1="0" y1="0" x2="1" y2="1"><stop offset="0" stop-color="#d0562f"/><stop offset="1" stop-color="#b5442b"/></linearGradient>
<g clip-path="url(#cp2)">
<rect x="134.5" y="395" width="116.0" height="116" fill="#30333b"/>
<rect x="136.7" y="396.6" width="111.4" height="111.4" rx="12" fill="#e08a6a"/>
<rect x="137.5" y="397.7" width="109.8" height="109.8" rx="11.2" fill="url(#potg2)"/>
<rect x="141.3" y="401.0" width="102.2" height="101.2" rx="8.5" fill="#8a3524" opacity="0.8"/>
<rect x="143.3" y="403.0" width="98.2" height="97.2" rx="7" fill="#2f1d18" filter="url(#soil)"/>
<g filter="url(#b05)">
<ellipse cx="170.9" cy="430.2" rx="3.4" ry="3.4" transform="rotate(0 170.9 430.2)" fill="url(#leaf2)"/>
<ellipse cx="171.8" cy="433.3" rx="3.4" ry="3.4" transform="rotate(0 171.8 433.3)" fill="url(#leaf2)"/>
<ellipse cx="169.2" cy="435.2" rx="3.4" ry="3.4" transform="rotate(0 169.2 435.2)" fill="url(#leaf2)"/>
<ellipse cx="166.6" cy="433.2" rx="3.4" ry="3.4" transform="rotate(0 166.6 433.2)" fill="url(#leaf2)"/>
<ellipse cx="167.6" cy="430.1" rx="3.4" ry="3.4" transform="rotate(0 167.6 430.1)" fill="url(#leaf2)"/>
<ellipse cx="194.1" cy="427.7" rx="3.3" ry="3.3" transform="rotate(0 194.1 427.7)" fill="url(#leaf2)"/>
<ellipse cx="195.5" cy="424.8" rx="3.3" ry="3.3" transform="rotate(0 195.5 424.8)" fill="url(#leaf2)"/>
<ellipse cx="198.6" cy="425.3" rx="3.3" ry="3.3" transform="rotate(0 198.6 425.3)" fill="url(#leaf2)"/>
<ellipse cx="199.2" cy="428.4" rx="3.3" ry="3.3" transform="rotate(0 199.2 428.4)" fill="url(#leaf2)"/>
<ellipse cx="196.4" cy="429.9" rx="3.3" ry="3.3" transform="rotate(0 196.4 429.9)" fill="url(#leaf2)"/>
<ellipse cx="215.8" cy="432.4" rx="2.7" ry="2.7" transform="rotate(0 215.8 432.4)" fill="url(#leaf2)"/>
<ellipse cx="213.4" cy="433.3" rx="2.7" ry="2.7" transform="rotate(0 213.4 433.3)" fill="url(#leaf2)"/>
<ellipse cx="211.8" cy="431.3" rx="2.7" ry="2.7" transform="rotate(0 211.8 431.3)" fill="url(#leaf2)"/>
<ellipse cx="213.2" cy="429.2" rx="2.7" ry="2.7" transform="rotate(0 213.2 429.2)" fill="url(#leaf2)"/>
<ellipse cx="215.7" cy="429.8" rx="2.7" ry="2.7" transform="rotate(0 215.7 429.8)" fill="url(#leaf2)"/>
<ellipse cx="191.4" cy="450.6" rx="3.1" ry="3.1" transform="rotate(0 191.4 450.6)" fill="url(#leaf2)"/>
<ellipse cx="189.6" cy="448.3" rx="3.1" ry="3.1" transform="rotate(0 189.6 448.3)" fill="url(#leaf2)"/>
<ellipse cx="191.2" cy="445.9" rx="3.1" ry="3.1" transform="rotate(0 191.2 445.9)" fill="url(#leaf2)"/>
<ellipse cx="194.0" cy="446.6" rx="3.1" ry="3.1" transform="rotate(0 194.0 446.6)" fill="url(#leaf2)"/>
<ellipse cx="194.1" cy="449.5" rx="3.1" ry="3.1" transform="rotate(0 194.1 449.5)" fill="url(#leaf2)"/>
<ellipse cx="169.1" cy="468.6" rx="3.3" ry="3.3" transform="rotate(0 169.1 468.6)" fill="url(#leaf2)"/>
<ellipse cx="169.9" cy="465.6" rx="3.3" ry="3.3" transform="rotate(0 169.9 465.6)" fill="url(#leaf2)"/>
<ellipse cx="173.1" cy="465.5" rx="3.3" ry="3.3" transform="rotate(0 173.1 465.5)" fill="url(#leaf2)"/>
<ellipse cx="174.1" cy="468.4" rx="3.3" ry="3.3" transform="rotate(0 174.1 468.4)" fill="url(#leaf2)"/>
<ellipse cx="171.7" cy="470.4" rx="3.3" ry="3.3" transform="rotate(0 171.7 470.4)" fill="url(#leaf2)"/>
<ellipse cx="211.8" cy="467.6" rx="2.4" ry="2.4" transform="rotate(0 211.8 467.6)" fill="url(#leaf2)"/>
<ellipse cx="214.0" cy="467.1" rx="2.4" ry="2.4" transform="rotate(0 214.0 467.1)" fill="url(#leaf2)"/>
<ellipse cx="215.2" cy="469.1" rx="2.4" ry="2.4" transform="rotate(0 215.2 469.1)" fill="url(#leaf2)"/>
<ellipse cx="213.7" cy="470.8" rx="2.4" ry="2.4" transform="rotate(0 213.7 470.8)" fill="url(#leaf2)"/>
<ellipse cx="211.6" cy="469.9" rx="2.4" ry="2.4" transform="rotate(0 211.6 469.9)" fill="url(#leaf2)"/>
<ellipse cx="188.8" cy="475.0" rx="3.7" ry="3.7" transform="rotate(0 188.8 475.0)" fill="url(#leaf2)"/>
<ellipse cx="192.1" cy="476.1" rx="3.7" ry="3.7" transform="rotate(0 192.1 476.1)" fill="url(#leaf2)"/>
<ellipse cx="192.1" cy="479.6" rx="3.7" ry="3.7" transform="rotate(0 192.1 479.6)" fill="url(#leaf2)"/>
<ellipse cx="188.8" cy="480.7" rx="3.7" ry="3.7" transform="rotate(0 188.8 480.7)" fill="url(#leaf2)"/>
<ellipse cx="186.7" cy="477.9" rx="3.7" ry="3.7" transform="rotate(0 186.7 477.9)" fill="url(#leaf2)"/>
</g></g>
<linearGradient id="potg3" x1="0" y1="0" x2="1" y2="1"><stop offset="0" stop-color="#dc8062"/><stop offset="1" stop-color="#c86a50"/></linearGradient>
<g clip-path="url(#cp3)">
<rect x="253.5" y="395" width="115.0" height="116" fill="#4a5060"/>
<rect x="254.4" y="396.4" width="113.4" height="113.0" rx="12" fill="#e89a80"/>
<rect x="255.2" y="397.5" width="111.8" height="111.4" rx="11.2" fill="url(#potg3)"/>
<rect x="256.0" y="399.4" width="108.4" height="106.2" rx="8.5" fill="#54241b" opacity="0.8"/>
<rect x="258.6" y="402.0" width="103.2" height="101.0" rx="7" fill="#2f1d18" filter="url(#soil)"/>
<g filter="url(#b05)">
<path d="M274.4 421.8L287.4 435.9" stroke="#459c2a" stroke-width="1.4"/>
<path d="M290.2 414.7L288.6 434.7" stroke="#459c2a" stroke-width="1.4"/>
<path d="M275.1 454.8L287.4 437.1" stroke="#459c2a" stroke-width="1.4"/>
<path d="M289.0 492.4L285.0 472.4" stroke="#459c2a" stroke-width="1.4"/>
<path d="M305.8 467.7L318.0 451.2" stroke="#459c2a" stroke-width="1.4"/>
<path d="M343.4 412.8L335.7 432.4" stroke="#459c2a" stroke-width="1.4"/>
<path d="M349.8 445.3L336.9 434.7" stroke="#459c2a" stroke-width="1.4"/>
<path d="M352.2 461.1L339.2 474.8" stroke="#459c2a" stroke-width="1.4"/>
<path d="M329.1 496.0L335.7 479.5" stroke="#459c2a" stroke-width="1.4"/>
<ellipse cx="274.4" cy="421.8" rx="11.1" ry="8.2" transform="rotate(35 274.4 421.8)" fill="url(#leaf3)"/>
<ellipse cx="290.2" cy="414.7" rx="6.4" ry="8.2" transform="rotate(0 290.2 414.7)" fill="url(#leaf3)"/>
<ellipse cx="294.5" cy="428.9" rx="5.2" ry="4.2" transform="rotate(0 294.5 428.9)" fill="url(#leaf3)"/>
<ellipse cx="274.4" cy="435.2" rx="3.5" ry="3.5" transform="rotate(0 274.4 435.2)" fill="url(#leaf3)"/>
<ellipse cx="282.7" cy="436.4" rx="4.0" ry="4.0" transform="rotate(0 282.7 436.4)" fill="url(#leaf3)"/>
<ellipse cx="275.1" cy="454.8" rx="9.4" ry="8.9" transform="rotate(0 275.1 454.8)" fill="url(#leaf3)"/>
<ellipse cx="262.7" cy="466.5" rx="5.9" ry="7.5" transform="rotate(0 262.7 466.5)" fill="url(#leaf3)"/>
<ellipse cx="272.8" cy="471.3" rx="8.2" ry="5.2" transform="rotate(0 272.8 471.3)" fill="url(#leaf3)"/>
<ellipse cx="290.9" cy="474.8" rx="4.7" ry="4.7" transform="rotate(0 290.9 474.8)" fill="url(#leaf3)"/>
<ellipse cx="289.0" cy="492.4" rx="7.5" ry="11.8" transform="rotate(0 289.0 492.4)" fill="url(#leaf3)"/>
<ellipse cx="295.6" cy="452.4" rx="7.5" ry="9.9" transform="rotate(15 295.6 452.4)" fill="url(#leaf3)"/>
<ellipse cx="306.2" cy="446.5" rx="7.8" ry="5.2" transform="rotate(0 306.2 446.5)" fill="url(#leaf3)"/>
<ellipse cx="309.8" cy="431.2" rx="8.7" ry="7.1" transform="rotate(0 309.8 431.2)" fill="url(#leaf3)"/>
<ellipse cx="326.3" cy="425.3" rx="7.8" ry="11.3" transform="rotate(10 326.3 425.3)" fill="url(#leaf3)"/>
<ellipse cx="317.5" cy="418.3" rx="4.2" ry="4.7" transform="rotate(0 317.5 418.3)" fill="url(#leaf3)"/>
<ellipse cx="343.4" cy="412.8" rx="7.1" ry="9.9" transform="rotate(20 343.4 412.8)" fill="url(#leaf3)"/>
<ellipse cx="345.1" cy="434.0" rx="7.1" ry="4.2" transform="rotate(0 345.1 434.0)" fill="url(#leaf3)"/>
<ellipse cx="341.6" cy="425.8" rx="3.1" ry="3.1" transform="rotate(0 341.6 425.8)" fill="url(#leaf3)"/>
<ellipse cx="327.4" cy="438.3" rx="7.1" ry="4.7" transform="rotate(0 327.4 438.3)" fill="url(#leaf3)"/>
<ellipse cx="325.1" cy="446.5" rx="5.9" ry="4.7" transform="rotate(0 325.1 446.5)" fill="url(#leaf3)"/>
<ellipse cx="349.8" cy="445.3" rx="8.2" ry="7.1" transform="rotate(0 349.8 445.3)" fill="url(#leaf3)"/>
<ellipse cx="339.2" cy="453.6" rx="9.9" ry="7.1" transform="rotate(0 339.2 453.6)" fill="url(#leaf3)"/>
<ellipse cx="352.2" cy="461.1" rx="7.5" ry="8.2" transform="rotate(0 352.2 461.1)" fill="url(#leaf3)"/>
<ellipse cx="305.8" cy="467.7" rx="9.4" ry="9.9" transform="rotate(20 305.8 467.7)" fill="url(#leaf3)"/>
<ellipse cx="326.3" cy="472.4" rx="8.9" ry="6.6" transform="rotate(0 326.3 472.4)" fill="url(#leaf3)"/>
<ellipse cx="320.4" cy="483.0" rx="8.2" ry="5.2" transform="rotate(0 320.4 483.0)" fill="url(#leaf3)"/>
<ellipse cx="348.6" cy="479.0" rx="7.5" ry="4.7" transform="rotate(0 348.6 479.0)" fill="url(#leaf3)"/>
<ellipse cx="334.5" cy="480.7" rx="3.1" ry="5.2" transform="rotate(0 334.5 480.7)" fill="url(#leaf3)"/>
<ellipse cx="329.1" cy="496.0" rx="7.1" ry="8.9" transform="rotate(10 329.1 496.0)" fill="url(#leaf3)"/>
<ellipse cx="343.9" cy="484.2" rx="2.8" ry="2.8" transform="rotate(0 343.9 484.2)" fill="url(#leaf3)"/>
</g>
<rect x="339.9" y="496" width="14.6" height="2" fill="#fff"/>
</g>
<text x="514.8" y="13.5" font-size="18.5" font-weight="bold" fill="#111">d</text>
<text x="580.5" y="25.9" font-size="10.8" text-anchor="middle" fill="#111">mVenus</text>
<text x="655.1" y="25.9" font-size="10.8" text-anchor="middle" fill="#111">Chloroplast</text>
<text x="727.3" y="25.9" font-size="10.8" text-anchor="middle" fill="#111">Merged</text>
<text transform="translate(534.9 61) rotate(-90)" text-anchor="middle" font-size="11" font-style="italic" fill="#111">MORF8-mVenus</text>
<text transform="translate(533.4 147.9) rotate(-90)" text-anchor="middle" font-size="10.9" font-style="italic" fill="#111"><tspan class="dl">Δ</tspan>IDR-mVenus</text>
<clipPath id="d0"><rect x="538.2" y="28.9" width="74.3" height="73.8"/></clipPath>
<rect x="538.2" y="28.9" width="74.3" height="73.8" fill="#040404"/>
<clipPath id="d1"><rect x="614.2" y="28.9" width="74.1" height="73.8"/></clipPath>
<rect x="614.2" y="28.9" width="74.1" height="73.8" fill="#040404"/>
<clipPath id="d2"><rect x="690.1" y="28.9" width="74.1" height="73.8"/></clipPath>
<rect x="690.1" y="28.9" width="74.1" height="73.8" fill="#040404"/>
<clipPath id="d3"><rect x="538.2" y="105.1" width="74.3" height="73.8"/></clipPath>
<rect x="538.2" y="105.1" width="74.3" height="73.8" fill="#040404"/>
<clipPath id="d4"><rect x="614.2" y="105.1" width="74.1" height="73.8"/></clipPath>
<rect x="614.2" y="105.1" width="74.1" height="73.8" fill="#040404"/>
<clipPath id="d5"><rect x="690.1" y="105.1" width="74.1" height="73.8"/></clipPath>
<rect x="690.1" y="105.1" width="74.1" height="73.8" fill="#040404"/>
<g clip-path="url(#d0)">
<radialGradient id="cg1"><stop offset="0" stop-color="#0d4427" stop-opacity="1.00"/><stop offset="0.55" stop-color="#0d4427" stop-opacity="0.95"/><stop offset="0.78" stop-color="#0d4427" stop-opacity="0.50"/><stop offset="1" stop-color="#0d4427" stop-opacity="0"/></radialGradient>
<ellipse cx="580.4" cy="50.4" rx="18.4" ry="18.4" fill="url(#cg1)"/>
<radialGradient id="cg2"><stop offset="0" stop-color="#126435" stop-opacity="1.00"/><stop offset="0.55" stop-color="#126435" stop-opacity="0.95"/><stop offset="0.78" stop-color="#126435" stop-opacity="0.50"/><stop offset="1" stop-color="#126435" stop-opacity="0"/></radialGradient>
<ellipse cx="578.0" cy="82.6" rx="18.6" ry="18.6" fill="url(#cg2)"/>
<radialGradient id="cg3"><stop offset="0" stop-color="#46e87c" stop-opacity="1.00"/><stop offset="0.45" stop-color="#46e87c" stop-opacity="0.70"/><stop offset="1" stop-color="#46e87c" stop-opacity="0"/></radialGradient>
<circle cx="580.3" cy="38.5" r="3.6" fill="url(#cg3)"/>
<radialGradient id="cg4"><stop offset="0" stop-color="#2fc868" stop-opacity="0.90"/><stop offset="0.45" stop-color="#2fc868" stop-opacity="0.63"/><stop offset="1" stop-color="#2fc868" stop-opacity="0"/></radialGradient>
<circle cx="594.1" cy="46.8" r="3.2" fill="url(#cg4)"/>
<radialGradient id="cg5"><stop offset="0" stop-color="#2fc868" stop-opacity="0.85"/><stop offset="0.45" stop-color="#2fc868" stop-opacity="0.59"/><stop offset="1" stop-color="#2fc868" stop-opacity="0"/></radialGradient>
<circle cx="569.7" cy="56.8" r="3.0" fill="url(#cg5)"/>
<radialGradient id="cg6"><stop offset="0" stop-color="#2fc868" stop-opacity="0.90"/><stop offset="0.45" stop-color="#2fc868" stop-opacity="0.63"/><stop offset="1" stop-color="#2fc868" stop-opacity="0"/></radialGradient>
<circle cx="591.8" cy="61.3" r="3.2" fill="url(#cg6)"/>
<radialGradient id="cg7"><stop offset="0" stop-color="#2fc868" stop-opacity="0.50"/><stop offset="0.45" stop-color="#2fc868" stop-opacity="0.35"/><stop offset="1" stop-color="#2fc868" stop-opacity="0"/></radialGradient>
<circle cx="589.0" cy="50.5" r="2.4" fill="url(#cg7)"/>
<radialGradient id="cg8"><stop offset="0" stop-color="#8aff8a" stop-opacity="1.00"/><stop offset="0.45" stop-color="#8aff8a" stop-opacity="0.70"/><stop offset="1" stop-color="#8aff8a" stop-opacity="0"/></radialGradient>
<circle cx="575.5" cy="92.4" r="4.6" fill="url(#cg8)"/>
<radialGradient id="cg9"><stop offset="0" stop-color="#2fc868" stop-opacity="0.60"/><stop offset="0.45" stop-color="#2fc868" stop-opacity="0.42"/><stop offset="1" stop-color="#2fc868" stop-opacity="0"/></radialGradient>
<circle cx="587.0" cy="85.7" r="2.6" fill="url(#cg9)"/>
</g>
<g clip-path="url(#d1)">
<radialGradient id="cg10"><stop offset="0" stop-color="#b2263c" stop-opacity="1.00"/><stop offset="0.55" stop-color="#b2263c" stop-opacity="0.95"/><stop offset="0.78" stop-color="#b2263c" stop-opacity="0.50"/><stop offset="1" stop-color="#b2263c" stop-opacity="0"/></radialGradient>
<ellipse cx="656.6" cy="50.6" rx="18.6" ry="18.6" fill="url(#cg10)"/>
<radialGradient id="cg11"><stop offset="0" stop-color="#85202f" stop-opacity="1.00"/><stop offset="0.45" stop-color="#85202f" stop-opacity="0.95"/><stop offset="0.73" stop-color="#85202f" stop-opacity="0.50"/><stop offset="1" stop-color="#85202f" stop-opacity="0"/></radialGradient>
<ellipse cx="654.2" cy="82.5" rx="18.6" ry="18.6" fill="url(#cg11)"/>
</g>
<g clip-path="url(#d2)">
<radialGradient id="cg12"><stop offset="0" stop-color="#0a3a1c" stop-opacity="0.70"/><stop offset="0.50" stop-color="#0a3a1c" stop-opacity="0.66"/><stop offset="0.75" stop-color="#0a3a1c" stop-opacity="0.35"/><stop offset="1" stop-color="#0a3a1c" stop-opacity="0"/></radialGradient>
<ellipse cx="702.0" cy="93.0" rx="16.0" ry="5.0" fill="url(#cg12)"/>
<radialGradient id="cg13"><stop offset="0" stop-color="#0e4a2a" stop-opacity="0.80"/><stop offset="0.55" stop-color="#0e4a2a" stop-opacity="0.76"/><stop offset="0.78" stop-color="#0e4a2a" stop-opacity="0.40"/><stop offset="1" stop-color="#0e4a2a" stop-opacity="0"/></radialGradient>
<ellipse cx="732.9" cy="50.3" rx="19.6" ry="19.6" fill="url(#cg13)"/>
<radialGradient id="cg14"><stop offset="0" stop-color="#14703c" stop-opacity="0.70"/><stop offset="0.55" stop-color="#14703c" stop-opacity="0.66"/><stop offset="0.78" stop-color="#14703c" stop-opacity="0.35"/><stop offset="1" stop-color="#14703c" stop-opacity="0"/></radialGradient>
<ellipse cx="730.5" cy="82.8" rx="19.6" ry="19.6" fill="url(#cg14)"/>
<radialGradient id="cg15"><stop offset="0" stop-color="#aa382e" stop-opacity="1.00"/><stop offset="0.55" stop-color="#aa382e" stop-opacity="0.95"/><stop offset="0.78" stop-color="#aa382e" stop-opacity="0.50"/><stop offset="1" stop-color="#aa382e" stop-opacity="0"/></radialGradient>
<ellipse cx="732.9" cy="50.2" rx="18.6" ry="18.6" fill="url(#cg15)"/>
<radialGradient id="cg16"><stop offset="0" stop-color="#86402a" stop-opacity="1.00"/><stop offset="0.50" stop-color="#86402a" stop-opacity="0.95"/><stop offset="0.75" stop-color="#86402a" stop-opacity="0.50"/><stop offset="1" stop-color="#86402a" stop-opacity="0"/></radialGradient>
<ellipse cx="730.9" cy="82.0" rx="18.4" ry="18.4" fill="url(#cg16)"/>
<radialGradient id="cg17"><stop offset="0" stop-color="#46e87c" stop-opacity="1.00"/><stop offset="0.45" stop-color="#46e87c" stop-opacity="0.70"/><stop offset="1" stop-color="#46e87c" stop-opacity="0"/></radialGradient>
<circle cx="731.8" cy="37.7" r="3.8" fill="url(#cg17)"/>
<radialGradient id="cg18"><stop offset="0" stop-color="#2fc868" stop-opacity="0.90"/><stop offset="0.45" stop-color="#2fc868" stop-opacity="0.63"/><stop offset="1" stop-color="#2fc868" stop-opacity="0"/></radialGradient>
<circle cx="746.5" cy="46.7" r="3.4" fill="url(#cg18)"/>
<radialGradient id="cg19"><stop offset="0" stop-color="#2fc868" stop-opacity="0.90"/><stop offset="0.45" stop-color="#2fc868" stop-opacity="0.63"/><stop offset="1" stop-color="#2fc868" stop-opacity="0"/></radialGradient>
<circle cx="720.5" cy="56.4" r="3.2" fill="url(#cg19)"/>
<radialGradient id="cg20"><stop offset="0" stop-color="#2fc868" stop-opacity="0.90"/><stop offset="0.45" stop-color="#2fc868" stop-opacity="0.63"/><stop offset="1" stop-color="#2fc868" stop-opacity="0"/></radialGradient>
<circle cx="743.1" cy="60.5" r="3.4" fill="url(#cg20)"/>
<radialGradient id="cg21"><stop offset="0" stop-color="#6cff7a" stop-opacity="1.00"/><stop offset="0.45" stop-color="#6cff7a" stop-opacity="0.70"/><stop offset="1" stop-color="#6cff7a" stop-opacity="0"/></radialGradient>
<circle cx="726.9" cy="92.0" r="5.0" fill="url(#cg21)"/>
<radialGradient id="cg22"><stop offset="0" stop-color="#2fc868" stop-opacity="0.60"/><stop offset="0.45" stop-color="#2fc868" stop-opacity="0.42"/><stop offset="1" stop-color="#2fc868" stop-opacity="0"/></radialGradient>
<circle cx="739.0" cy="86.0" r="2.6" fill="url(#cg22)"/>
<rect x="752.1" y="97" width="7.5" height="1.8" fill="#fff"/>
</g>
<g clip-path="url(#d3)">
<radialGradient id="cg23"><stop offset="0" stop-color="#07200f" stop-opacity="0.80"/><stop offset="0.30" stop-color="#07200f" stop-opacity="0.76"/><stop offset="0.65" stop-color="#07200f" stop-opacity="0.40"/><stop offset="1" stop-color="#07200f" stop-opacity="0"/></radialGradient>
<ellipse cx="596.0" cy="140.0" rx="14.0" ry="40.0" fill="url(#cg23)"/>
<radialGradient id="cg24"><stop offset="0" stop-color="#0f4a28" stop-opacity="0.85"/><stop offset="0.40" stop-color="#0f4a28" stop-opacity="0.81"/><stop offset="0.70" stop-color="#0f4a28" stop-opacity="0.42"/><stop offset="1" stop-color="#0f4a28" stop-opacity="0"/></radialGradient>
<ellipse cx="562.0" cy="120.0" rx="12.0" ry="12.0" fill="url(#cg24)"/>
<radialGradient id="cg25"><stop offset="0" stop-color="#2a8c50" stop-opacity="1.00"/><stop offset="0.62" stop-color="#2a8c50" stop-opacity="0.95"/><stop offset="0.81" stop-color="#2a8c50" stop-opacity="0.50"/><stop offset="1" stop-color="#2a8c50" stop-opacity="0"/></radialGradient>
<ellipse cx="574.6" cy="123.6" rx="15.8" ry="15.8" fill="url(#cg25)"/>
<radialGradient id="cg26"><stop offset="0" stop-color="#32a058" stop-opacity="1.00"/><stop offset="0.62" stop-color="#32a058" stop-opacity="0.95"/><stop offset="0.81" stop-color="#32a058" stop-opacity="0.50"/><stop offset="1" stop-color="#32a058" stop-opacity="0"/></radialGradient>
<ellipse cx="573.2" cy="163.8" rx="14.8" ry="16.6" fill="url(#cg26)"/>
</g>
<g clip-path="url(#d4)">
<radialGradient id="cg27"><stop offset="0" stop-color="#5a1424" stop-opacity="0.85"/><stop offset="0.40" stop-color="#5a1424" stop-opacity="0.81"/><stop offset="0.70" stop-color="#5a1424" stop-opacity="0.42"/><stop offset="1" stop-color="#5a1424" stop-opacity="0"/></radialGradient>
<ellipse cx="635.5" cy="120.0" rx="10.5" ry="10.5" fill="url(#cg27)"/>
<radialGradient id="cg28"><stop offset="0" stop-color="#c22a42" stop-opacity="1.00"/><stop offset="0.62" stop-color="#c22a42" stop-opacity="0.95"/><stop offset="0.81" stop-color="#c22a42" stop-opacity="0.50"/><stop offset="1" stop-color="#c22a42" stop-opacity="0"/></radialGradient>
<ellipse cx="652.2" cy="121.9" rx="14.6" ry="14.6" fill="url(#cg28)"/>
<radialGradient id="cg29"><stop offset="0" stop-color="#c22a42" stop-opacity="1.00"/><stop offset="0.62" stop-color="#c22a42" stop-opacity="0.95"/><stop offset="0.81" stop-color="#c22a42" stop-opacity="0.50"/><stop offset="1" stop-color="#c22a42" stop-opacity="0"/></radialGradient>
<ellipse cx="649.6" cy="164.6" rx="15.2" ry="15.8" fill="url(#cg29)"/>
</g>
<g clip-path="url(#d5)">
<radialGradient id="cg30"><stop offset="0" stop-color="#07200f" stop-opacity="0.70"/><stop offset="0.30" stop-color="#07200f" stop-opacity="0.66"/><stop offset="0.65" stop-color="#07200f" stop-opacity="0.35"/><stop offset="1" stop-color="#07200f" stop-opacity="0"/></radialGradient>
<ellipse cx="748.0" cy="140.0" rx="12.0" ry="40.0" fill="url(#cg30)"/>
<radialGradient id="cg31"><stop offset="0" stop-color="#6a3020" stop-opacity="0.85"/><stop offset="0.40" stop-color="#6a3020" stop-opacity="0.81"/><stop offset="0.70" stop-color="#6a3020" stop-opacity="0.42"/><stop offset="1" stop-color="#6a3020" stop-opacity="0"/></radialGradient>
<ellipse cx="711.0" cy="121.0" rx="11.0" ry="11.0" fill="url(#cg31)"/>
<radialGradient id="cg32"><stop offset="0" stop-color="#1f9a52" stop-opacity="0.80"/><stop offset="0.72" stop-color="#1f9a52" stop-opacity="0.76"/><stop offset="0.86" stop-color="#1f9a52" stop-opacity="0.40"/><stop offset="1" stop-color="#1f9a52" stop-opacity="0"/></radialGradient>
<ellipse cx="727.6" cy="124.2" rx="16.4" ry="16.4" fill="url(#cg32)"/>
<radialGradient id="cg33"><stop offset="0" stop-color="#1f9a52" stop-opacity="0.85"/><stop offset="0.72" stop-color="#1f9a52" stop-opacity="0.81"/><stop offset="0.86" stop-color="#1f9a52" stop-opacity="0.42"/><stop offset="1" stop-color="#1f9a52" stop-opacity="0"/></radialGradient>
<ellipse cx="724.9" cy="165.2" rx="15.8" ry="17.0" fill="url(#cg33)"/>
<radialGradient id="cg34"><stop offset="0" stop-color="#c4743c" stop-opacity="1.00"/><stop offset="0.66" stop-color="#c4743c" stop-opacity="0.95"/><stop offset="0.83" stop-color="#c4743c" stop-opacity="0.50"/><stop offset="1" stop-color="#c4743c" stop-opacity="0"/></radialGradient>
<ellipse cx="727.0" cy="123.1" rx="15.2" ry="15.2" fill="url(#cg34)"/>
<radialGradient id="cg35"><stop offset="0" stop-color="#be8038" stop-opacity="1.00"/><stop offset="0.66" stop-color="#be8038" stop-opacity="0.95"/><stop offset="0.83" stop-color="#be8038" stop-opacity="0.50"/><stop offset="1" stop-color="#be8038" stop-opacity="0"/></radialGradient>
<ellipse cx="724.1" cy="164.6" rx="15.0" ry="16.0" fill="url(#cg35)"/>
<rect x="752.4" y="172.6" width="7.7" height="1.7" fill="#fff"/>
</g>
<text x="514.5" y="216.1" font-size="18.5" font-weight="bold" fill="#111">e</text>
<text x="592.6" y="231.8" font-size="10.9" text-anchor="middle" fill="#111">MORF8-mVenus</text>
<text x="700.8" y="231.8" font-size="10.9" text-anchor="middle" fill="#111">MORF8<tspan class="dl">Δ</tspan>IDR-mVenus</text>
<path d="M535.5 236.5H637.6M645.6 236.5H748.3" stroke="#111" stroke-width="1.1"/>
<text x="550.0" y="248.5" font-size="11" text-anchor="middle" fill="#111">T</text>
<text x="583.5" y="248.5" font-size="11" text-anchor="middle" fill="#111">P</text>
<text x="621.0" y="248.5" font-size="11" text-anchor="middle" fill="#111">S</text>
<text x="660.9" y="248.5" font-size="11" text-anchor="middle" fill="#111">T</text>
<text x="694.0" y="248.5" font-size="11" text-anchor="middle" fill="#111">P</text>
<text x="731.2" y="248.5" font-size="11" text-anchor="middle" fill="#111">S</text>
<linearGradient id="bg1" x1="0" y1="0" x2="0" y2="1"><stop offset="0" stop-color="#efefef"/><stop offset="0.55" stop-color="#e4e4e4"/><stop offset="1" stop-color="#ececec"/></linearGradient>
<clipPath id="e0"><rect x="532.2" y="251.8" width="107.9" height="32.4"/></clipPath><clipPath id="e1"><rect x="642.5" y="251.8" width="107.5" height="32"/></clipPath><clipPath id="e2"><rect x="532.2" y="287.5" width="107.9" height="35.7"/></clipPath><clipPath id="e3"><rect x="642.5" y="287.5" width="107.5" height="35.5"/></clipPath>
<rect x="532.2" y="251.8" width="107.9" height="32.4" fill="url(#bg1)"/>
<rect x="642.5" y="251.8" width="107.5" height="32.0" fill="url(#bg1)"/>
<rect x="532.2" y="287.5" width="107.9" height="35.7" fill="url(#bg1)"/>
<rect x="642.5" y="287.5" width="107.5" height="35.5" fill="url(#bg1)"/>
<g clip-path="url(#e0)">
<path d="M537.4 269.5Q549.5 270.1 561.6 269.5" fill="none" stroke="#0a0a0a" stroke-width="6.0" stroke-linecap="round" opacity="1.00" filter="url(#b08)"/>
<path d="M573.3 268.6Q586.0 268.6 598.7 268.6" fill="none" stroke="#0a0a0a" stroke-width="7.6" stroke-linecap="round" opacity="1.00" filter="url(#b08)"/>
<path d="M585.5 272.0Q591.8 273.6 598.0 272.0" fill="none" stroke="#0a0a0a" stroke-width="7.0" stroke-linecap="round" opacity="1.00" filter="url(#b08)"/>
<path d="M582.8 282.2Q586.2 282.2 589.7 282.2" fill="none" stroke="#444" stroke-width="3.6" stroke-linecap="round" opacity="0.80" filter="url(#b08)"/>
<path d="M606.8 268.2Q609.6 268.2 612.4 268.2" fill="none" stroke="#0a0a0a" stroke-width="5.2" stroke-linecap="round" opacity="1.00" filter="url(#b08)"/>
<path d="M612.6 269.2Q624.0 269.2 635.4 269.2" fill="none" stroke="#8c8c8c" stroke-width="3.2" stroke-linecap="round" opacity="0.85" filter="url(#b08)"/>
<path d="M633.8 269.6Q634.8 269.6 635.7 269.6" fill="none" stroke="#555" stroke-width="2.6" stroke-linecap="round" opacity="0.80" filter="url(#b06)"/>
</g><g clip-path="url(#e1)">
<path d="M649.0 268.4Q660.0 268.0 671.0 268.4" fill="none" stroke="#0a0a0a" stroke-width="6.0" stroke-linecap="round" opacity="1.00" filter="url(#b08)"/>
<path d="M652.7 269.9Q660.0 270.3 667.3 269.9" fill="none" stroke="#0a0a0a" stroke-width="5.4" stroke-linecap="round" opacity="1.00" filter="url(#b08)"/>
<path d="M683.6 269.6Q695.0 269.6 706.4 269.6" fill="none" stroke="#c2c2c2" stroke-width="3.2" stroke-linecap="round" opacity="0.95" filter="url(#b08)"/>
<path d="M722.2 269.4Q732.6 269.0 743.0 269.4" fill="none" stroke="#0a0a0a" stroke-width="6.0" stroke-linecap="round" opacity="1.00" filter="url(#b08)"/>
<path d="M726.7 270.7Q733.0 271.1 739.3 270.7" fill="none" stroke="#0a0a0a" stroke-width="5.4" stroke-linecap="round" opacity="1.00" filter="url(#b08)"/>
<path d="M663.7 282.1Q664.3 282.1 664.9 282.1" fill="none" stroke="#444" stroke-width="1.8" stroke-linecap="round" opacity="1.00" filter="url(#b06)"/>
</g><g clip-path="url(#e2)">
<path d="M538.6 305.1Q548.9 307.2 559.2 305.1" fill="none" stroke="#0a0a0a" stroke-width="5.6" stroke-linecap="round" opacity="1.00" filter="url(#b08)"/>
<path d="M577.7 305.8Q586.8 308.0 595.8 305.8" fill="none" stroke="#0a0a0a" stroke-width="6.4" stroke-linecap="round" opacity="1.00" filter="url(#b08)"/>
<path d="M611.3 304.9Q621.2 306.5 631.2 304.9" fill="none" stroke="#0a0a0a" stroke-width="4.6" stroke-linecap="round" opacity="1.00" filter="url(#b08)"/>
<path d="M612.1 304.6Q613.2 304.6 614.4 304.6" fill="none" stroke="#0a0a0a" stroke-width="5.2" stroke-linecap="round" opacity="1.00" filter="url(#b08)"/>
<path d="M590 300L606 291" stroke="#d6d6d6" stroke-width="3" filter="url(#b08)"/>
</g><g clip-path="url(#e3)">
<path d="M651.8 304.2Q659.2 306.0 666.6 304.2" fill="none" stroke="#0a0a0a" stroke-width="6.8" stroke-linecap="round" opacity="1.00" filter="url(#b08)"/>
<path d="M685.4 305.2Q694.5 307.0 703.6 305.2" fill="none" stroke="#0a0a0a" stroke-width="7.2" stroke-linecap="round" opacity="1.00" filter="url(#b08)"/>
<path d="M725.9 305.0Q733.1 306.6 740.4 305.0" fill="none" stroke="#0a0a0a" stroke-width="6.8" stroke-linecap="round" opacity="1.00" filter="url(#b08)"/>
</g>
<text x="514.9" y="260.7" font-size="10.9" fill="#111">KD</text>
<text x="514.4" y="273.5" font-size="10.9" fill="#111">75</text><path d="M527.4 269.6H532.6" stroke="#111" stroke-width="1.1"/>
<text x="514.4" y="316.7" font-size="10.9" fill="#111">40</text><path d="M527.8 312.8H531.6" stroke="#111" stroke-width="1.1"/>
<text x="753.4" y="260.5" font-size="10.9" fill="#111">KD</text>
<path d="M750 269.6H753" stroke="#111" stroke-width="1.1"/><text x="755.2" y="273.5" font-size="10.9" fill="#111">60</text>
<path d="M750 312.6H753" stroke="#111" stroke-width="1.1"/><text x="755.2" y="316.5" font-size="10.9" fill="#111">40</text>
<text x="772.8" y="267.9" font-size="10.7" fill="#111">anti</text><text x="772.8" y="280.1" font-size="10.7" fill="#111">-GFP</text>
<text x="772.8" y="303.2" font-size="10.7" fill="#111">anti</text><text x="772.8" y="315.9" font-size="10.7" fill="#111">-Actin</text>
</svg>
</body></html>
